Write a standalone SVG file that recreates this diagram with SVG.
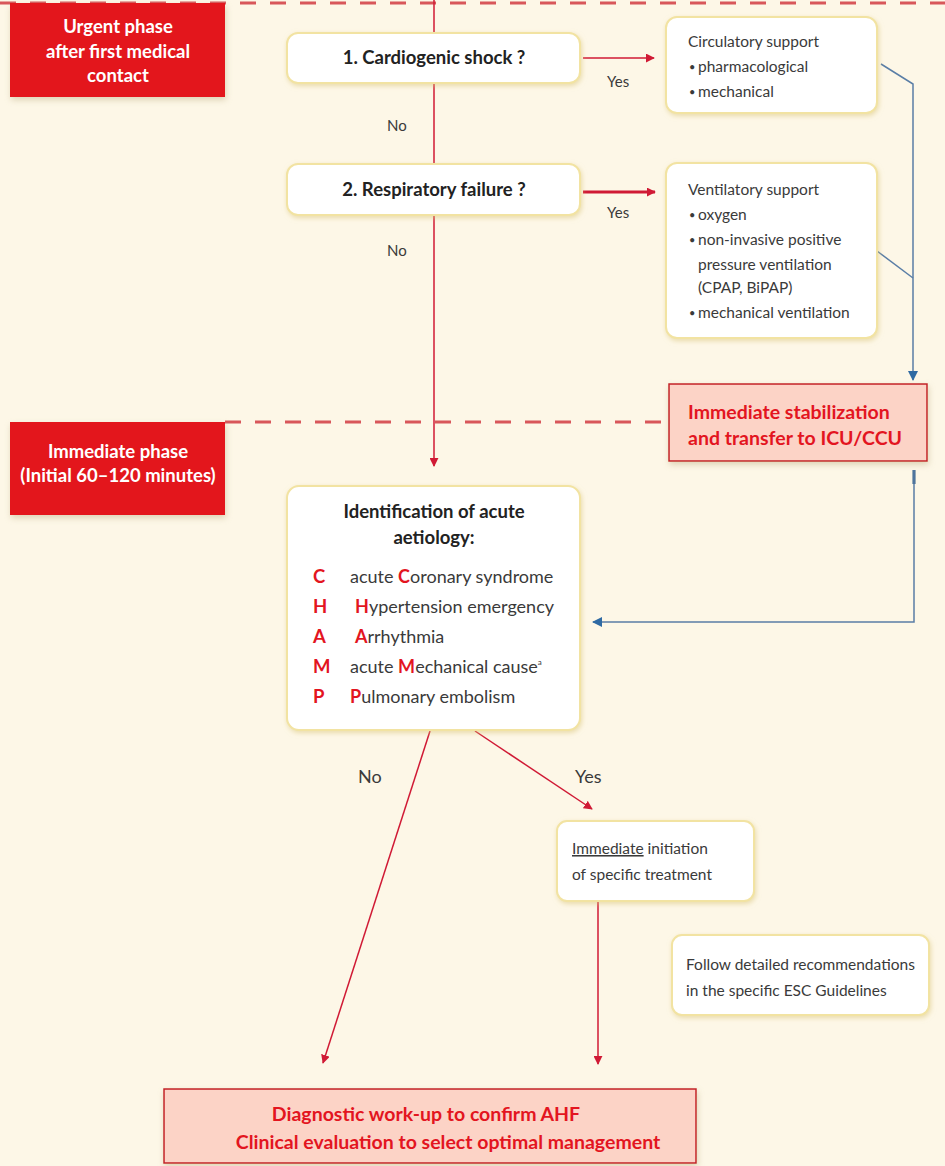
<svg xmlns="http://www.w3.org/2000/svg" width="945" height="1166" viewBox="0 0 945 1166">
  <defs>
    <style>
      .bg { fill: #fdf7e7; }
      .phase { fill: #e3151f; filter: url(#shadow); }
      .phase-text { font-family: Lato, "Open Sans", sans-serif; font-weight: 700; font-size: 18.5px; fill: #ffffff; text-anchor: middle; }
      .box { fill: #ffffff; stroke: #f2e3a2; stroke-width: 2; filter: url(#glow); }
      .alert { fill: #fcd3c6; stroke: #c42127; stroke-width: 1.5; filter: url(#shadow); }
      .q { font-family: Lato, "Open Sans", sans-serif; font-weight: 700; font-size: 18.5px; fill: #222222; text-anchor: middle; }
      .t { font-family: Lato, "Open Sans", sans-serif; font-size: 15.5px; fill: #3a3a3a; }
      .bul { font-family: Lato, "Open Sans", sans-serif; font-size: 11px; fill: #3a3a3a; }
      .s { font-family: Lato, "Open Sans", sans-serif; font-size: 15.5px; fill: #3a3a3a; }
      .tl { font-family: Lato, "Open Sans", sans-serif; font-size: 18px; fill: #3a3a3a; }
      .lbl { font-family: Lato, "Open Sans", sans-serif; font-size: 15px; fill: #3a3a3a; }
      .lbl-big { font-family: Lato, "Open Sans", sans-serif; font-size: 18px; fill: #3a3a3a; }
      .red-b { font-family: Lato, "Open Sans", sans-serif; font-weight: 700; fill: #e3151f; }
      .red-title { font-family: Lato, "Open Sans", sans-serif; font-weight: 700; font-size: 19.5px; fill: #e3151f; }
      .letter { font-family: Lato, "Open Sans", sans-serif; font-weight: 700; font-size: 18.5px; fill: #e3151f; }
      .dash { stroke: #d8575a; stroke-width: 2.8; stroke-dasharray: 16 14; fill: none; }
      .red-line { stroke: #d01a35; stroke-width: 1.5; fill: none; }
      .red-line-thick { stroke: #d01a35; stroke-width: 3; fill: none; }
      .blue-line { stroke: #5a7ea6; stroke-width: 1.5; fill: none; }
    </style>
    <filter id="shadow" x="-10%" y="-10%" width="120%" height="130%">
      <feDropShadow dx="1" dy="3" stdDeviation="3" flood-color="#b8a878" flood-opacity="0.45"/>
    </filter>
    <filter id="glow" x="-10%" y="-10%" width="120%" height="130%">
      <feDropShadow dx="1" dy="2" stdDeviation="2.5" flood-color="#d9c477" flood-opacity="0.55"/>
    </filter>
    <marker id="arrowRed" viewBox="0 0 10 10" refX="9" refY="5" markerWidth="9" markerHeight="9" markerUnits="userSpaceOnUse" orient="auto">
      <path d="M0,0 L10,5 L0,10 z" fill="#d01a35"/>
    </marker>
    <marker id="arrowBlue" viewBox="0 0 10 10" refX="9" refY="5" markerWidth="10" markerHeight="10" markerUnits="userSpaceOnUse" orient="auto">
      <path d="M0,0 L10,5 L0,10 z" fill="#2f6aa3"/>
    </marker>
  </defs>

  <rect class="bg" x="0" y="0" width="945" height="1166"/>

  <!-- phase separators -->
  <line class="dash" x1="0" y1="3" x2="945" y2="3"/>
  <line class="dash" x1="225" y1="422" x2="668" y2="422"/>

  <!-- phase labels -->
  <g id="phase-urgent">
    <rect class="phase" x="10" y="3" width="215" height="94"/>
    <text class="phase-text" x="118" y="33">Urgent phase</text>
    <text class="phase-text" x="118" y="58">after first medical</text>
    <text class="phase-text" x="118" y="82">contact</text>
  </g>
  <g id="phase-immediate">
    <rect class="phase" x="10" y="422" width="215" height="93"/>
    <text class="phase-text" x="118" y="458">Immediate phase</text>
    <text class="phase-text" x="118" y="482">(Initial 60–120 minutes)</text>
  </g>

  <!-- connectors -->
  <g id="connectors">
    <line class="red-line" x1="434" y1="0" x2="434" y2="33"/>
    <line class="red-line" x1="434" y1="84" x2="434" y2="163"/>
    <line class="red-line" x1="434" y1="216" x2="434" y2="466" marker-end="url(#arrowRed)"/>
    <line class="red-line" x1="583" y1="58" x2="654" y2="58" marker-end="url(#arrowRed)"/>
    <line class="red-line-thick" x1="583" y1="192" x2="655" y2="192" marker-end="url(#arrowRed)"/>

    <polyline class="blue-line" points="881,64 913,84 913,380" marker-end="url(#arrowBlue)"/>
    <line class="blue-line" x1="877" y1="251" x2="913" y2="278"/>
    <line x1="914" y1="470" x2="914" y2="484" stroke="#2d5a86" stroke-width="3"/>
    <polyline class="blue-line" points="914,470 914,622 593,622" marker-end="url(#arrowBlue)"/>

    <line class="red-line" x1="430" y1="731" x2="323" y2="1063" marker-end="url(#arrowRed)"/>
    <line class="red-line" x1="475" y1="731" x2="592" y2="809" marker-end="url(#arrowRed)"/>
    <line class="red-line" x1="598" y1="902" x2="598" y2="1064" marker-end="url(#arrowRed)"/>

    <text class="lbl" x="387" y="131">No</text>
    <text class="lbl" x="387" y="256">No</text>
    <text class="lbl" x="607" y="87">Yes</text>
    <text class="lbl" x="607" y="218">Yes</text>
    <text class="lbl-big" x="358" y="783">No</text>
    <text class="lbl-big" x="575" y="783">Yes</text>
  </g>

  <!-- question 1 -->
  <g id="q-cardiogenic-shock">
    <rect class="box" x="287" y="33" width="293" height="50" rx="11"/>
    <text class="q" x="434" y="64">1. Cardiogenic shock ?</text>
  </g>

  <!-- question 2 -->
  <g id="q-respiratory-failure">
    <rect class="box" x="287" y="164" width="293" height="51" rx="11"/>
    <text class="q" x="434" y="196">2. Respiratory failure ?</text>
  </g>

  <!-- circulatory support -->
  <g id="circulatory-support">
    <rect class="box" x="666" y="17" width="211" height="96" rx="11"/>
    <text class="t" x="688" y="47">Circulatory support</text>
    <text class="bul" x="689" y="71">•</text>
    <text class="t" x="698" y="72">pharmacological</text>
    <text class="bul" x="689" y="96">•</text>
    <text class="t" x="698" y="97">mechanical</text>
  </g>

  <!-- ventilatory support -->
  <g id="ventilatory-support">
    <rect class="box" x="666" y="163" width="211" height="175" rx="11"/>
    <text class="t" x="688" y="195">Ventilatory support</text>
    <text class="bul" x="689" y="219">•</text>
    <text class="t" x="698" y="220">oxygen</text>
    <text class="bul" x="689" y="244">•</text>
    <text class="t" x="698" y="245">non-invasive positive</text>
    <text class="t" x="698" y="270">pressure ventilation</text>
    <text class="t" x="698" y="293">(CPAP, BiPAP)</text>
    <text class="bul" x="689" y="317">•</text>
    <text class="t" x="698" y="318">mechanical ventilation</text>
  </g>

  <!-- stabilization -->
  <g id="stabilization">
    <rect class="alert" x="669" y="384" width="258" height="77"/>
    <text class="red-title" x="688" y="419">Immediate stabilization</text>
    <text class="red-title" x="688" y="445">and transfer to ICU/CCU</text>
  </g>

  <!-- aetiology -->
  <g id="aetiology">
    <rect class="box" x="287" y="486" width="293" height="244" rx="12"/>
    <text class="q" x="434" y="518">Identification of acute</text>
    <text class="q" x="434" y="544">aetiology:</text>
    <text class="letter" x="313" y="583">C</text>
    <text class="tl" x="350" y="583">acute <tspan class="red-b">C</tspan>oronary syndrome</text>
    <text class="letter" x="313" y="613">H</text>
    <text class="tl" x="355" y="613"><tspan class="red-b">H</tspan>ypertension emergency</text>
    <text class="letter" x="313" y="643">A</text>
    <text class="tl" x="355" y="643"><tspan class="red-b">A</tspan>rrhythmia</text>
    <text class="letter" x="313" y="673">M</text>
    <text class="tl" x="350" y="673">acute <tspan class="red-b">M</tspan>echanical cause<tspan font-size="8" dy="-8">a</tspan></text>
    <text class="letter" x="313" y="703">P</text>
    <text class="tl" x="350" y="703"><tspan class="red-b">P</tspan>ulmonary embolism</text>
  </g>

  <!-- specific treatment -->
  <g id="specific-treatment">
    <rect class="box" x="557" y="821" width="197" height="80" rx="10"/>
    <text class="s" x="572" y="854"><tspan text-decoration="underline">Immediate</tspan> initiation</text>
    <text class="s" x="572" y="880">of specific treatment</text>
  </g>

  <!-- guidelines note -->
  <g id="guidelines">
    <rect class="box" x="672" y="935" width="257" height="80" rx="10"/>
    <text class="s" x="686" y="970">Follow detailed recommendations</text>
    <text class="s" x="686" y="996">in the specific ESC Guidelines</text>
  </g>

  <!-- diagnostic work-up -->
  <g id="diagnostic-workup">
    <rect class="alert" x="164" y="1089" width="532" height="74" stroke-width="3"/>
    <text class="red-title" x="426" y="1121" text-anchor="middle">Diagnostic work-up to confirm AHF</text>
    <text class="red-title" x="448" y="1149" text-anchor="middle">Clinical evaluation to select optimal management</text>
  </g>
</svg>
